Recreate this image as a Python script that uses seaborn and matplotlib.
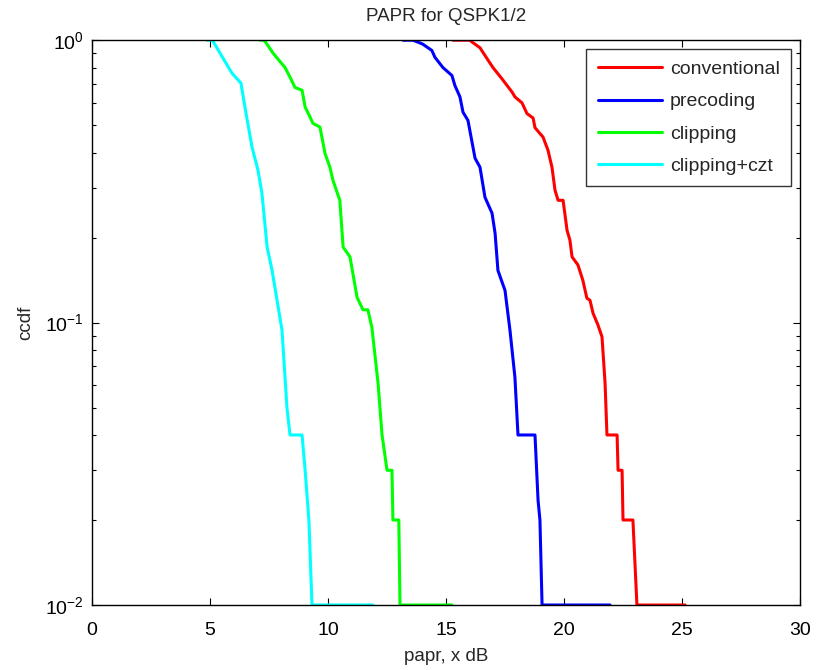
"""
PAPR ccdf curves for QSPK1/2 (conventional / precoding / clipping / clipping+czt).
"""

import numpy as np
import pandas as pd
import matplotlib
matplotlib.use("Agg")
import matplotlib.pyplot as plt
import seaborn as sns
from matplotlib.ticker import LogLocator, NullFormatter


# =============================================
# DATA
# =============================================

conv_papr = [15.3, 16.0, 16.44, 16.78, 16.99, 17.37, 17.8, 17.92, 18.22, 18.43, 18.69,
             18.77, 19.11, 19.32, 19.49, 19.62, 19.75, 19.96, 20.13, 20.25, 20.34, 20.59,
             20.8, 20.97, 21.1, 21.23, 21.44, 21.61, 21.74, 21.82, 22.25, 22.29, 22.46,
             22.5, 22.92, 23.09, 25.13]
conv_ccdf = [1.0, 1.0, 0.94, 0.85, 0.80, 0.73, 0.655, 0.63, 0.60, 0.55, 0.53,
             0.49, 0.454, 0.408, 0.355, 0.294, 0.271, 0.271, 0.212, 0.196, 0.171, 0.160,
             0.141, 0.122, 0.12, 0.108, 0.098, 0.089, 0.061, 0.04, 0.04, 0.03, 0.03,
             0.02, 0.02, 0.01, 0.01]

prec_papr = [13.18, 13.6, 14.0, 14.4, 14.53, 14.87, 15.25, 15.38, 15.59, 15.72, 15.93,
             16.23, 16.44, 16.65, 16.95, 17.08, 17.2, 17.5, 17.71, 17.92, 18.05, 18.77,
             18.9, 18.98, 19.07, 21.95]
prec_ccdf = [1.0, 1.0, 0.97, 0.92, 0.87, 0.80, 0.75, 0.69, 0.63, 0.556, 0.52,
             0.382, 0.355, 0.278, 0.244, 0.207, 0.153, 0.130, 0.094, 0.064, 0.04, 0.04,
             0.0235, 0.02, 0.01, 0.01]

clip_papr = [7.12, 7.3, 7.67, 8.18, 8.39, 8.6, 8.9, 9.03, 9.24, 9.36, 9.66, 9.87, 10.08,
             10.21, 10.5, 10.64, 10.93, 11.23, 11.48, 11.69, 11.86, 12.12, 12.29, 12.5,
             12.71, 12.75, 13.0, 13.05, 15.25]
clip_ccdf = [1.0, 1.0, 0.90, 0.80, 0.74, 0.68, 0.665, 0.58, 0.534, 0.508, 0.492, 0.398, 0.355,
             0.319, 0.271, 0.185, 0.171, 0.123, 0.111, 0.111, 0.096, 0.061, 0.04, 0.03,
             0.03, 0.02, 0.02, 0.01, 0.01]

czt_papr = [4.87, 5.1, 5.55, 5.93, 6.31, 6.48, 6.78, 7.03, 7.2, 7.42, 7.63, 8.05, 8.26,
            8.39, 8.9, 9.03, 9.19, 9.32, 11.9]
czt_ccdf = [1.0, 1.0, 0.864, 0.764, 0.705, 0.579, 0.418, 0.347, 0.287, 0.185, 0.153, 0.094, 0.050,
            0.04, 0.04, 0.03, 0.02, 0.01, 0.01]

labels = ["conventional", "precoding", "clipping", "clipping+czt"]
colors = ["#ff0000", "#0000ff", "#00ff00", "#00ffff"]
x_ticks = [0, 5, 10, 15, 20, 25, 30]


# =============================================
# PLOT
# =============================================

frames = []
for name, xs, ys in zip(labels,
                        [conv_papr, prec_papr, clip_papr, czt_papr],
                        [conv_ccdf, prec_ccdf, clip_ccdf, czt_ccdf]):
    frames.append(pd.DataFrame({"papr": xs, "ccdf": ys, "scheme": name}))
df = pd.concat(frames, ignore_index=True)

sns.set_style("ticks")
plt.rcParams["font.family"] = ["Liberation Sans", "DejaVu Sans"]
plt.rcParams["mathtext.fontset"] = "custom"
plt.rcParams["mathtext.rm"] = "Liberation Sans"
plt.rcParams["mathtext.it"] = "Liberation Sans"

fig = plt.figure(figsize=(8.18, 6.70), dpi=100)
ax = fig.add_axes([0.1125, 0.097, 0.8655, 0.843])

sns.lineplot(data=df, x="papr", y="ccdf", hue="scheme", hue_order=labels,
             palette=colors, sort=False, estimator=None, linewidth=2.2, ax=ax)

ax.set_yscale("log")
ax.set_xlim(0, 30)
ax.set_ylim(1e-2, 1)
ax.set_xticks(x_ticks)
ax.yaxis.set_major_locator(LogLocator(base=10))
ax.yaxis.set_minor_locator(LogLocator(base=10, subs=np.arange(2, 10)))
ax.yaxis.set_minor_formatter(NullFormatter())

ax.tick_params(which="both", direction="in", top=True, right=True,
               labelsize=14, width=0.8, colors="black")
ax.tick_params(axis="x", which="major", length=5, pad=12)
ax.tick_params(axis="y", which="major", length=5, pad=6)
ax.tick_params(which="minor", length=3)
for sp in ax.spines.values():
    sp.set_linewidth(1.0)
    sp.set_color("black")

ax.set_title("PAPR for QSPK1/2", fontsize=13.5, pad=14)
ax.set_xlabel("papr, x dB", fontsize=13.5, labelpad=7)
ax.set_ylabel("ccdf", fontsize=13.5, labelpad=8)

leg = ax.legend(loc="upper right", fontsize=14, frameon=True, fancybox=False,
                edgecolor="black", handlelength=3.3, handletextpad=0.4,
                borderpad=0.6, labelspacing=0.75, borderaxespad=0.45)
leg.get_frame().set_linewidth(1.0)

fig.savefig("out.png", dpi=100, facecolor="white")
